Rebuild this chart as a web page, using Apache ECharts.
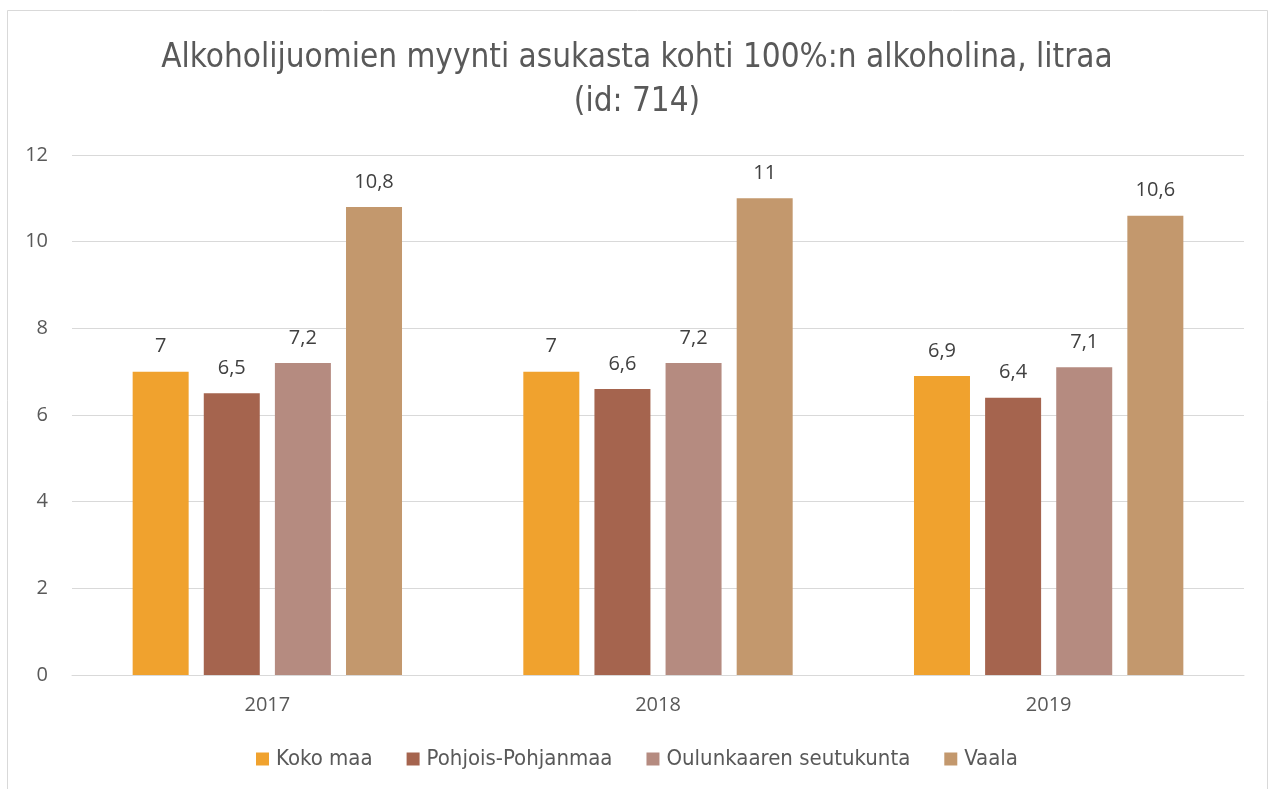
<!DOCTYPE html>
<html>
<head>
<meta charset="utf-8">
<script src="https://cdn.jsdelivr.net/npm/echarts@6/dist/echarts.min.js"></script>
<style>
  html, body { margin: 0; padding: 0; background: #fff; }
  #chart { width: 1274px; height: 789px; }
</style>
</head>
<body>
<div id="chart"></div>
<script>
const years = ['2017', '2018', '2019']
const kokoMaa = [7, 7, 6.9]
const pohjoisPohjanmaa = [6.5, 6.6, 6.4]
const oulunkaari = [7.2, 7.2, 7.1]
const vaala = [10.8, 11, 10.6]
const seriesNames = ['Koko maa', 'Pohjois-Pohjanmaa', 'Oulunkaaren seutukunta', 'Vaala']
const colors = ['#F0A22E', '#A5644E', '#B58B80', '#C3986D']

const narrow = '"Liberation Sans Narrow", "DejaVu Sans Condensed", "Open Sans", sans-serif'
const labelFont = '"Open Sans", "Noto Sans", sans-serif'

const chart = echarts.init(document.getElementById('chart'))

// data labels in Finnish decimal style
const fmt = (p) => String(p.value).replace('.', ',')

const makeSeries = (name, data, i) => ({
  name,
  type: 'bar',
  data,
  barWidth: 56,
  barGap: '27%',
  itemStyle: { color: colors[i] },
  label: {
    show: true,
    position: 'top',
    distance: 15,
    formatter: fmt,
    color: '#404040',
    fontSize: 20,
    fontFamily: labelFont
  }
})

chart.setOption({
  animation: false,
  backgroundColor: '#ffffff',
  graphic: [{
    type: 'rect',
    shape: { x: 7.5, y: 10.5, width: 1260, height: 800 },
    style: { fill: 'none', stroke: '#d9d9d9', lineWidth: 1 },
    silent: true
  }],
  title: {
    text: 'Alkoholijuomien myynti asukasta kohti 100%:n alkoholina, litraa\n(id: 714)',
    left: 'center',
    top: 31,
    textStyle: {
      color: '#595959',
      fontSize: 33,
      fontWeight: 'normal',
      fontFamily: narrow,
      lineHeight: 44
    }
  },
  legend: {
    bottom: 14,
    left: 'center',
    itemWidth: 13,
    itemHeight: 13,
    itemGap: 34,
    icon: 'rect',
    data: seriesNames,
    textStyle: {
      color: '#595959',
      fontSize: 22,
      fontFamily: narrow,
      padding: [0, 0, 0, 2]
    }
  },
  grid: {
    left: 72,
    right: 30,
    top: 155,
    bottom: 114,
    containLabel: false
  },
  xAxis: {
    type: 'category',
    data: years,
    axisTick: { show: false },
    axisLine: { lineStyle: { color: '#d9d9d9', width: 1 } },
    axisLabel: {
      color: '#595959',
      fontSize: 20,
      fontFamily: labelFont,
      margin: 20
    }
  },
  yAxis: {
    type: 'value',
    min: 0,
    max: 12,
    interval: 2,
    axisLine: { show: false },
    axisTick: { show: false },
    axisLabel: {
      color: '#595959',
      fontSize: 20,
      fontFamily: labelFont,
      margin: 24
    },
    splitLine: { lineStyle: { color: '#d9d9d9', width: 1 } }
  },
  series: [
    makeSeries(seriesNames[0], kokoMaa, 0),
    makeSeries(seriesNames[1], pohjoisPohjanmaa, 1),
    makeSeries(seriesNames[2], oulunkaari, 2),
    makeSeries(seriesNames[3], vaala, 3)
  ]
})
</script>
</body>
</html>
